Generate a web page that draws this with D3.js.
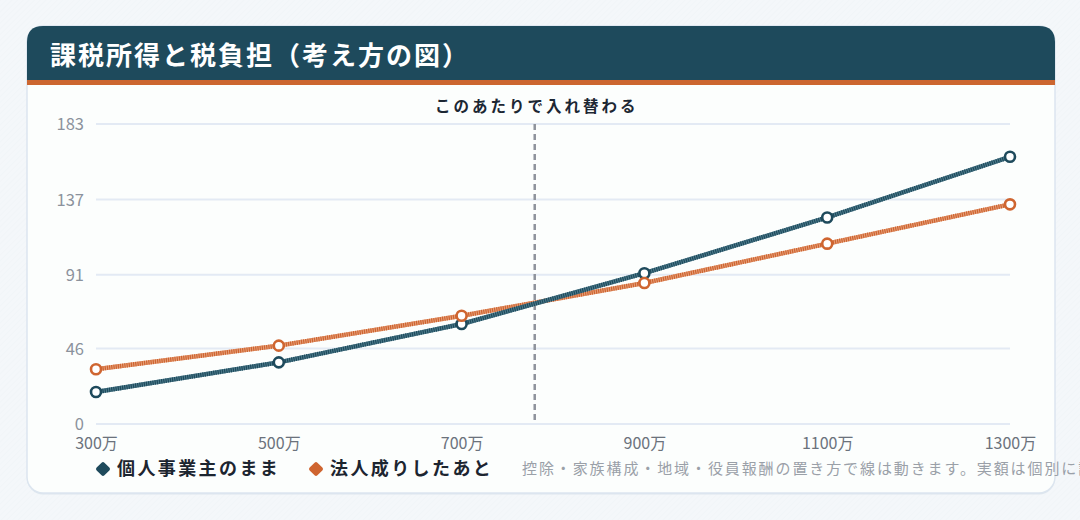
<!DOCTYPE html>
<html><head><meta charset="utf-8">
<script src="https://cdn.jsdelivr.net/npm/d3@7"></script>
<style>
html,body{margin:0;padding:0;background:#f3f7f9;overflow:hidden;}
svg{display:block;overflow:visible;font-family:"Noto Sans CJK JP","Noto Sans",sans-serif;}
</style></head><body>
<svg id="c" width="1080" height="520"></svg>
<script>
// ---- data ----
const title = "課税所得と税負担（考え方の図）";
const categories = [300, 500, 700, 900, 1100, 1300]; // 課税所得（万円）
const xTickLabels = ["300万", "500万", "700万", "900万", "1100万", "1300万"];
const seriesNames = ["個人事業主のまま", "法人成りしたあと"];
const kojinValues = [19.5, 37.6, 61, 92, 126, 163];
const hojinValues = [33.4, 47.8, 66, 86, 110, 134];
const yTickValues = [0, 46, 91, 137, 183];
const yMax = 183;
const crossoverX = 780;
const crossoverLabel = "このあたりで入れ替わる";
const note = "控除・家族構成・地域・役員報酬の置き方で線は動きます。実額は個別に試算してください。";

const svg = d3.select("#c");
const W = 1080, H = 520;

// background pattern
const defs = svg.append("defs");
const pat = defs.append("pattern").attr("id","bgp").attr("width",4).attr("height",4)
  .attr("patternUnits","userSpaceOnUse").attr("patternTransform","rotate(45)");
pat.append("rect").attr("width",4).attr("height",4).attr("fill","#f4f7fa");
pat.append("line").attr("x1",0).attr("y1",0).attr("x2",0).attr("y2",4).attr("stroke","#eef3f7").attr("stroke-width",1);
svg.append("rect").attr("width",W).attr("height",H).attr("fill","url(#bgp)");

// card
const cx0 = 27, cy0 = 26, cx1 = 1055, cy1 = 493, r = 16;
svg.append("rect").attr("x",cx0).attr("y",cy0+1.5).attr("width",cx1-cx0).attr("height",cy1-cy0)
  .attr("rx",r).attr("fill","#dde6ee");
svg.append("rect").attr("x",cx0).attr("y",cy0).attr("width",cx1-cx0).attr("height",cy1-cy0)
  .attr("rx",r).attr("fill","#fcfefd").attr("stroke","#dce5ef").attr("stroke-width",1.5);
// header
const hb = 80;
svg.append("path").attr("d",
  `M${cx0},${hb} L${cx0},${cy0+r} Q${cx0},${cy0} ${cx0+r},${cy0} L${cx1-r},${cy0} Q${cx1},${cy0} ${cx1},${cy0+r} L${cx1},${hb} Z`)
  .attr("fill","#1e4a5c");
svg.append("rect").attr("x",cx0).attr("y",hb).attr("width",cx1-cx0).attr("height",5).attr("fill","#cc6630");
svg.append("text").attr("x",50).attr("y",65).attr("fill","#ffffff")
  .attr("font-size",26).attr("font-weight",700).attr("letter-spacing",2).text(title);

// scales
const x = d3.scaleLinear().domain([300,1300]).range([96,1010]);
const y = d3.scaleLinear().domain([0,yMax]).range([424,124]);

// grid
const g = svg.append("g");
g.selectAll("line.grid").data(yTickValues).join("line")
  .attr("x1",96).attr("x2",1010).attr("y1",d=>y(d)).attr("y2",d=>y(d))
  .attr("stroke","#e3eaf4").attr("stroke-width",2);

// y axis labels
const yAxis = d3.axisLeft(y).tickValues(yTickValues).tickSize(0).tickPadding(0).tickFormat(d3.format("d"));
const ya = svg.append("g").attr("transform","translate(84,0)").call(yAxis);
ya.select(".domain").remove();
ya.selectAll("text").attr("fill","#8b929c").attr("font-size",16.5)
  .attr("font-family","'Noto Sans CJK JP',sans-serif").attr("dy","0.35em");

// x axis labels
const xAxis = d3.axisBottom(x).tickValues(categories).tickSize(0).tickPadding(0)
  .tickFormat((d,i)=>xTickLabels[i]);
const xa = svg.append("g").attr("transform","translate(0,443)").call(xAxis);
xa.select(".domain").remove();
xa.selectAll("text").attr("fill","#6b727c").attr("font-size",16)
  .attr("font-family","'Noto Sans CJK JP',sans-serif").attr("dy","0.35em");

// crossover dashed line
svg.append("line").attr("x1",x(crossoverX)).attr("x2",x(crossoverX)).attr("y1",y(yMax)).attr("y2",y(0))
  .attr("stroke","#8e939c").attr("stroke-width",2.5).attr("stroke-dasharray","6 4");
svg.append("text").attr("x",x(crossoverX)+2).attr("y",112).attr("text-anchor","middle")
  .attr("fill","#1c2733").attr("font-size",15.5).attr("font-weight",700).attr("letter-spacing",3)
  .text(crossoverLabel);

// lines
const series = [
  {name: seriesNames[0], values: kojinValues, base:"#4f7d8d", over:"#1e4a5c", mark:"#1e4a5c"},
  {name: seriesNames[1], values: hojinValues, base:"#e7a07a", over:"#cd6430", mark:"#cf6530"}
];
const line = d3.line().x((d,i)=>x(categories[i])).y(d=>y(d));
[series[1], series[0]].forEach(s=>{
  svg.append("path").attr("d",line(s.values)).attr("fill","none")
    .attr("stroke",s.base).attr("stroke-width",4.5).attr("stroke-linejoin","round");
  svg.append("path").attr("d",line(s.values)).attr("fill","none")
    .attr("stroke",s.over).attr("stroke-width",4.5).attr("stroke-dasharray","1.2 1");
});
series.forEach(s=>{
  svg.append("g").selectAll("circle").data(s.values).join("circle")
    .attr("cx",(d,i)=>x(categories[i])).attr("cy",d=>y(d)).attr("r",5)
    .attr("fill","#ffffff").attr("stroke",s.mark).attr("stroke-width",2.6);
});

// legend
const legX = [103, 316];
series.forEach((s,i)=>{
  const lg = svg.append("g").attr("transform",`translate(${legX[i]},469)`);
  lg.append("rect").attr("x",-5.5).attr("y",-5.5).attr("width",11).attr("height",11).attr("rx",2)
    .attr("transform","rotate(45)").attr("fill",s.mark);
  lg.append("text").attr("x",14).attr("y",0).attr("dy","0.36em").attr("fill","#1c2530")
    .attr("font-size",18).attr("font-weight",700).attr("letter-spacing",2.4).text(s.name);
});
svg.append("text").attr("x",522).attr("y",469).attr("dy","0.36em").attr("fill","#9aa0a8")
  .attr("font-size",15).attr("letter-spacing",1.9).text(note);
</script>
</body></html>
